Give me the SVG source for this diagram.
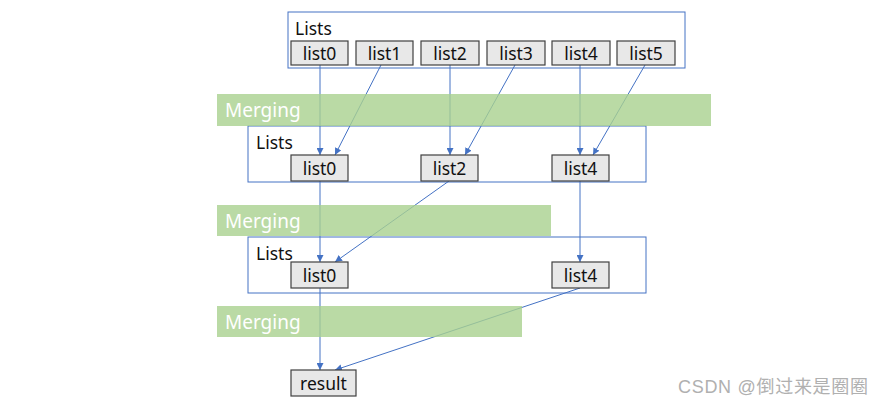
<svg xmlns="http://www.w3.org/2000/svg" width="884" height="408" viewBox="0 0 884 408">
<defs>
<marker id="ah" viewBox="0 0 10 10" refX="10" refY="5" markerWidth="7" markerHeight="7" markerUnits="userSpaceOnUse" orient="auto">
<path d="M0,0 L10,5 L0,10 z" fill="#4472c4"/>
</marker>
<style>
.cont{fill:#fff;stroke:#4472c4;stroke-width:1}
.box{fill:#e8e8e8;stroke:#404040;stroke-width:1.2}
.t{font-family:"Noto Sans","Liberation Sans",sans-serif;font-size:17.5px;fill:#111}
.c{text-anchor:middle}
.band{fill:#a9d18e;fill-opacity:0.8}
.bt{font-family:"Noto Sans","Liberation Sans",sans-serif;font-size:19px;fill:#fff}
.ln{stroke:#4472c4;stroke-width:1;fill:none;marker-end:url(#ah)}
.wm{font-family:"Liberation Sans","Noto Sans CJK SC",sans-serif;font-size:18px;fill:#b0b0b0}
</style>
</defs>
<rect width="884" height="408" fill="#fff"/>
<g id="lists1">
<rect class="cont" x="288" y="12" width="397" height="56"/>
<text class="t" x="295" y="35">Lists</text>
</g>
<g id="lists2">
<rect class="cont" x="248" y="126" width="398" height="56"/>
<text class="t" x="256" y="149">Lists</text>
</g>
<g id="lists3">
<rect class="cont" x="248" y="237" width="398" height="56"/>
<text class="t" x="256" y="260">Lists</text>
</g>
<g id="connectors">
<line class="ln" x1="320" y1="65" x2="320" y2="155"/>
<line class="ln" x1="381" y1="65" x2="335" y2="155"/>
<line class="ln" x1="450" y1="65" x2="450" y2="155"/>
<line class="ln" x1="515" y1="65" x2="465" y2="155"/>
<line class="ln" x1="580" y1="65" x2="580" y2="155"/>
<line class="ln" x1="645" y1="65" x2="593" y2="155"/>
<line class="ln" x1="320" y1="181" x2="320" y2="262"/>
<line class="ln" x1="449" y1="181" x2="335" y2="262"/>
<line class="ln" x1="580" y1="181" x2="580" y2="262"/>
<line class="ln" x1="320" y1="288" x2="320" y2="370"/>
<line class="ln" x1="580" y1="288" x2="335" y2="370"/>
</g>
<g id="merging1">
<rect class="band" x="217" y="94" width="494" height="32"/>
<text class="bt" x="225" y="117">Merging</text>
</g>
<g id="merging2">
<rect class="band" x="217" y="205" width="334" height="31"/>
<text class="bt" x="225" y="228">Merging</text>
</g>
<g id="merging3">
<rect class="band" x="217" y="306" width="305" height="31"/>
<text class="bt" x="225" y="329">Merging</text>
</g>
<g id="top-list0"><rect class="box" x="291" y="41" width="57" height="24"/><text class="t c" x="319.5" y="59.5">list0</text></g>
<g id="top-list1"><rect class="box" x="356" y="41" width="57" height="24"/><text class="t c" x="384.5" y="59.5">list1</text></g>
<g id="top-list2"><rect class="box" x="421" y="41" width="58" height="24"/><text class="t c" x="450" y="59.5">list2</text></g>
<g id="top-list3"><rect class="box" x="487" y="41" width="58" height="24"/><text class="t c" x="516" y="59.5">list3</text></g>
<g id="top-list4"><rect class="box" x="552" y="41" width="58" height="24"/><text class="t c" x="581" y="59.5">list4</text></g>
<g id="top-list5"><rect class="box" x="617" y="41" width="58" height="24"/><text class="t c" x="646" y="59.5">list5</text></g>
<g id="mid-list0"><rect class="box" x="291" y="155" width="57" height="26"/><text class="t c" x="319.5" y="174.5">list0</text></g>
<g id="mid-list2"><rect class="box" x="421" y="155" width="57" height="26"/><text class="t c" x="449.5" y="174.5">list2</text></g>
<g id="mid-list4"><rect class="box" x="552" y="155" width="57" height="26"/><text class="t c" x="580.5" y="174.5">list4</text></g>
<g id="low-list0"><rect class="box" x="291" y="262" width="57" height="26"/><text class="t c" x="319.5" y="281.5">list0</text></g>
<g id="low-list4"><rect class="box" x="552" y="262" width="57" height="26"/><text class="t c" x="580.5" y="281.5">list4</text></g>
<g id="result"><rect class="box" x="291" y="370" width="65" height="26"/><text class="t c" x="323.5" y="389.5">result</text></g>
<text class="wm" x="678" y="393" textLength="190">CSDN @倒过来是圈圈</text>
</svg>
